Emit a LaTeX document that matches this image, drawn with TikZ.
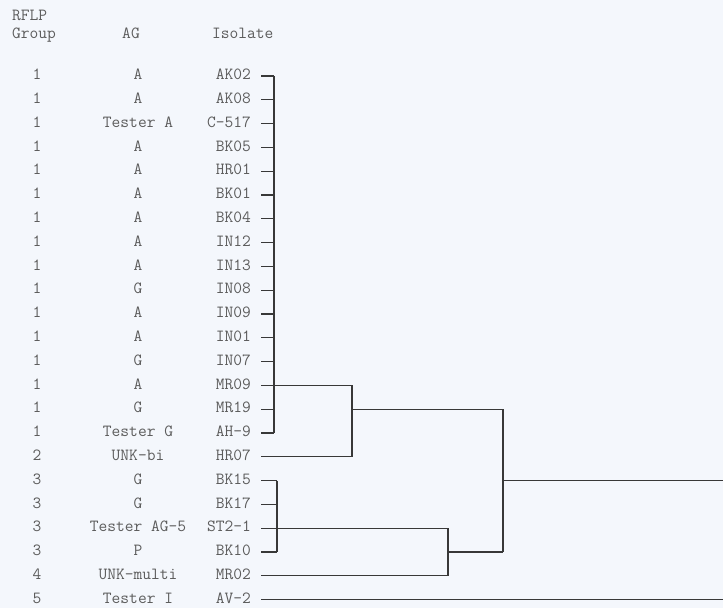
\documentclass[tikz,border=0pt]{standalone}
\usepackage{fontspec}
\usetikzlibrary{positioning,calc}
\definecolor{paper}{HTML}{F4F7FC}
\definecolor{inkgray}{HTML}{5C5C5C}
\definecolor{branch}{HTML}{383838}

\begin{document}
\begin{tikzpicture}[x=1pt,y=-1pt,
  lbl/.style={font=\ttfamily\fontsize{17}{20}\selectfont,text=inkgray,inner sep=0pt},
  tree/.style={draw=branch,line width=1.1pt}]
\fill[paper] (0,0) rectangle (723,608);
\useasboundingbox (0,0) rectangle (723,608);

% column heads
\node[lbl,anchor=mid west] (rflphd) at (12,18) {RFLP};
\node[lbl,anchor=mid west] (grouphd) at (12,36) {Group};
\node[lbl,anchor=mid] (aghd) at (131,36) {AG};
\node[lbl,anchor=mid west] (isohd) at (212,36) {Isolate};

% rows: group / AG / isolate
\foreach \grp/\ag/\iso [count=\i] in {1/A/AK02, 1/A/AK08, 1/Tester A/C-517,
    1/A/BK05, 1/A/HR01, 1/A/BK01, 1/A/BK04, 1/A/IN12, 1/A/IN13, 1/G/IN08,
    1/A/IN09, 1/A/IN01, 1/G/IN07, 1/A/MR09, 1/G/MR19, 1/Tester G/AH-9,
    2/UNK-bi/HR07, 3/G/BK15, 3/G/BK17, 3/Tester AG-5/ST2-1, 3/P/BK10,
    4/UNK-multi/MR02, 5/Tester I/AV-2} {
  \node[lbl,anchor=mid] (grp\i) at (37,{77.5+23.8*(\i-1)}) {\grp};
  \node[lbl,anchor=mid] (ag\i) at (138,{77.5+23.8*(\i-1)}) {\ag};
  \node[lbl,anchor=mid east] (iso\i) at (251,{77.5+23.8*(\i-1)}) {\iso};
  \coordinate (tip\i) at ([xshift=10pt,yshift=1.5pt]iso\i.mid east);
}

% joins of the dendrogram
\coordinate (kA) at (274,0);
\coordinate (kB) at (352,0);
\coordinate (kC) at (277,0);
\coordinate (kD) at (448,0);
\coordinate (kE) at (503,0);
\coordinate (kR) at (723,0);

% RFLP group 1
\foreach \i in {1,...,16}
  \draw[tree] (tip\i) -- (tip\i -| kA);
\draw[tree] (tip1 -| kA) -- (tip16 -| kA);
\draw[tree] (tip14 -| kA) -- (tip14 -| kB) -- (tip17 -| kB) -- (tip17);
\draw[tree] (tip15 -| kB) -- (tip15 -| kE);

% RFLP group 3 and 4
\foreach \i in {18,...,21}
  \draw[tree] (tip\i) -- (tip\i -| kC);
\draw[tree] (tip18 -| kC) -- (tip21 -| kC);
\draw[tree] (tip20 -| kC) -- (tip20 -| kD) -- (tip22 -| kD) -- (tip22);
\draw[tree] (tip21 -| kD) -- (tip21 -| kE);

% root
\draw[tree] (tip15 -| kE) -- (tip21 -| kE);
\draw[tree] (tip18 -| kE) -- (tip18 -| kR);
\draw[tree] (tip23) -- (tip23 -| kR);
\end{tikzpicture}
\end{document}
